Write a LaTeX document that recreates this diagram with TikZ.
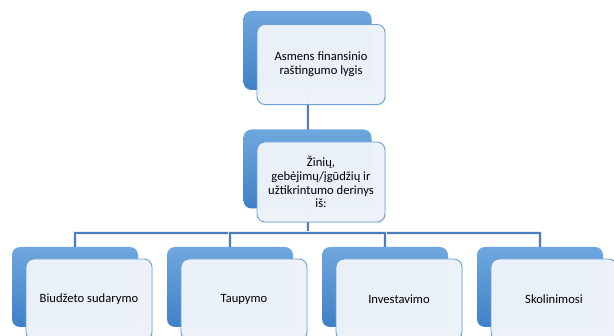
\documentclass[tikz,border=0pt]{standalone}
\usepackage{fontspec}
\setmainfont{Carlito}
\usepackage{tikz}
\usetikzlibrary{shadows}
\definecolor{backtop}{HTML}{6FA7DE}
\definecolor{backbot}{HTML}{3F80C6}
\definecolor{frontfill}{HTML}{EEF3FA}
\definecolor{frontline}{HTML}{6A9FD8}
\definecolor{linkcol}{HTML}{4A7EBC}
\pgfdeclarelayer{bg}
\pgfsetlayers{bg,main}

\begin{document}
\begin{tikzpicture}[x=1pt,y=-1pt,
    backbox/.style={rounded corners=8pt, inner sep=0pt, shading=axis,
      top color=backtop, bottom color=backbot,
      minimum width=128pt, minimum height=79pt},
    frontbox/.style={rounded corners=8pt, inner sep=0pt, draw=frontline,
      line width=0.9pt, fill=frontfill, fill opacity=0.975, text opacity=1,
      drop shadow={opacity=0.12, shadow xshift=1pt, shadow yshift=-1.5pt},
      minimum width=128pt, minimum height=80pt, align=center,
      font=\fontsize{12.6}{13.8}\selectfont},
    link/.style={draw=linkcol, line width=2pt,
      preaction={draw=white!92!black, line width=3.6pt}}]
    \useasboundingbox (0,0) rectangle (614,336);
    \clip (0,0) rectangle (614,336);

    \node[backbox] (asmensBack) at (307.5,50.5) {};
    \node[frontbox] (asmens) at (321,64.5) {Asmens finansinio\\raštingumo lygis};

    \node[backbox] (derinysBack) at (307.5,169) {};
    \node[frontbox] (derinys) at (321,182) {Žinių,\\gebėjimų/įgūdžių ir\\užtikrintumo derinys\\iš:};

    \node[backbox, minimum width=126pt, minimum height=80pt] (biudzetasBack) at (75,287) {};
    \node[frontbox, minimum width=126pt, minimum height=81pt] (biudzetas) at (89,299.5) {Biudžeto sudarymo};

    \node[backbox, minimum width=126pt, minimum height=80pt] (taupymasBack) at (230,287) {};
    \node[frontbox, minimum width=126pt, minimum height=81pt] (taupymas) at (244,299.5) {Taupymo};

    \node[backbox, minimum width=126pt, minimum height=80pt] (investavimasBack) at (385,287) {};
    \node[frontbox, minimum width=126pt, minimum height=81pt] (investavimas) at (399,299.5) {Investavimo};

    \node[backbox, minimum width=126pt, minimum height=80pt] (skolinimasBack) at (540,287) {};
    \node[frontbox, minimum width=126pt, minimum height=81pt] (skolinimas) at (554,299.5) {Skolinimosi};

    \coordinate (bus) at (307.5,233);
    \begin{pgfonlayer}{bg}
      \draw[link] (asmensBack.center) -- (derinysBack.center);
      \draw[link] (derinysBack.center) -- (bus);
      \draw[link] (biudzetasBack.center) |- (bus) -| (skolinimasBack.center);
      \draw[link] (bus) -| (taupymasBack.center);
      \draw[link] (bus) -| (investavimasBack.center);
    \end{pgfonlayer}
  \end{tikzpicture}
\end{document}
